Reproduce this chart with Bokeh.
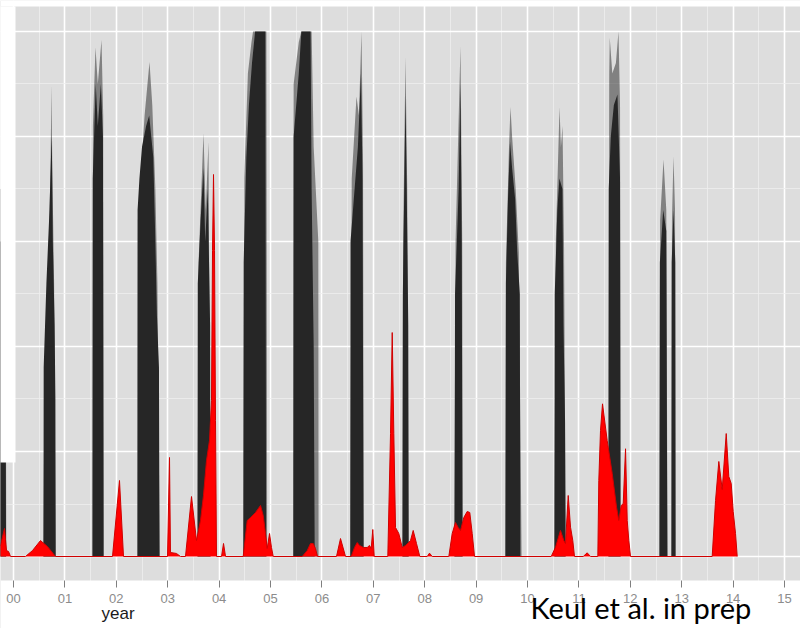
from bokeh.plotting import figure
from bokeh.models import FixedTicker, Range1d, BoxAnnotation, Label
from bokeh.embed import file_html
from bokeh.resources import INLINE

# ---------------- data ----------------
tick_years = list(range(2000, 2016))
tick_labels = ["00", "01", "02", "03", "04", "05", "06", "07", "08", "09",
               "10", "11", "12", "13", "14", "15"]
minor_years = [1999.5, 2000.5, 2001.5, 2002.5, 2003.5, 2004.5, 2005.5, 2006.5,
               2007.5, 2008.5, 2009.5, 2010.5, 2011.5, 2012.5, 2013.5, 2014.5, 2015.5]
y_major = [0, 1, 2, 3, 4, 5]
y_minor = [0.5, 1.5, 2.5, 3.5, 4.5]

# black ensemble: upper envelope (faint tips)
black_max_x = [
    1999.70, 1999.71, 1999.845, 1999.86,
    2000.58, 2000.60, 2000.66, 2000.72, 2000.739, 2000.755, 2000.79, 2000.82,
    2001.535, 2001.545, 2001.595, 2001.64, 2001.712, 2001.745, 2001.755,
    2002.41, 2002.42, 2002.55, 2002.646, 2002.70, 2002.76, 2002.80, 2002.845,
    2003.58, 2003.60, 2003.696, 2003.74, 2003.794, 2003.835,
    2004.47, 2004.49, 2004.56, 2004.63, 2004.66, 2004.92, 2004.935,
    2005.44, 2005.45, 2005.55, 2005.60, 2005.80, 2005.84, 2005.93, 2005.935,
    2006.55, 2006.58, 2006.673, 2006.72, 2006.77, 2006.80, 2006.815,
    2007.565, 2007.58, 2007.626, 2007.66, 2007.69,
    2008.575, 2008.60, 2008.696, 2008.73, 2008.74,
    2009.565, 2009.58, 2009.64, 2009.669, 2009.70, 2009.77, 2009.83, 2009.885,
    2010.52, 2010.55, 2010.623, 2010.65, 2010.681, 2010.71, 2010.745,
    2011.57, 2011.59, 2011.60, 2011.65, 2011.72, 2011.77, 2011.80, 2011.815,
    2012.565, 2012.58, 2012.646, 2012.70, 2012.725,
    2012.80, 2012.81, 2012.84, 2012.87, 2012.88,
]
black_max_y = [
    0, 3.5, 3.5, 0,
    0, 1.4, 2.4, 3.7, 4.49, 3.7, 2.6, 0,
    0, 4.1, 4.85, 4.5, 4.92, 4.2, 0,
    0, 3.2, 4.2, 4.71, 4.3, 3.5, 2.6, 0,
    0, 2.8, 4.03, 3.3, 3.95, 0,
    0, 3.6, 4.6, 4.9, 5.0, 5.0, 0,
    0, 4.5, 4.9, 5.0, 5.0, 3.9, 3.0, 0,
    0, 3.6, 4.38, 4.2, 5.0, 3.8, 0,
    0, 3.0, 4.76, 3.5, 0,
    0, 3.0, 4.86, 3.0, 0,
    0, 2.8, 3.9, 4.28, 4.0, 3.5, 2.9, 0,
    0, 3.0, 4.28, 3.9, 4.10, 3.0, 0,
    0, 4.6, 4.94, 4.6, 4.7, 5.0, 4.3, 0,
    0, 3.2, 3.78, 3.3, 0,
    0, 3.2, 3.81, 3.3, 0,
]

# black ensemble: dense core
black_core_x = [
    1999.70, 1999.71, 1999.84, 1999.855,
    2000.583, 2000.587, 2000.64, 2000.70, 2000.735, 2000.745, 2000.765, 2000.80, 2000.815, 2000.82,
    2001.537, 2001.542, 2001.58, 2001.60, 2001.64, 2001.70, 2001.74, 2001.752,
    2002.412, 2002.414, 2002.45, 2002.50, 2002.58, 2002.64, 2002.68, 2002.72, 2002.76, 2002.79, 2002.83, 2002.84,
    2003.58, 2003.585, 2003.64, 2003.696, 2003.73, 2003.78, 2003.825, 2003.832,
    2004.472, 2004.478, 2004.53, 2004.58, 2004.64, 2004.70, 2004.90, 2004.915,
    2005.445, 2005.45, 2005.55, 2005.60, 2005.78, 2005.80, 2005.84, 2005.86,
    2006.553, 2006.557, 2006.62, 2006.70, 2006.76, 2006.79, 2006.81,
    2007.568, 2007.575, 2007.61, 2007.626, 2007.65, 2007.68, 2007.687,
    2008.58, 2008.59, 2008.66, 2008.696, 2008.72, 2008.736,
    2009.572, 2009.58, 2009.62, 2009.66, 2009.70, 2009.76, 2009.80, 2009.85, 2009.86,
    2010.525, 2010.53, 2010.58, 2010.62, 2010.68, 2010.70, 2010.73, 2010.74,
    2011.576, 2011.58, 2011.62, 2011.68, 2011.75, 2011.80, 2011.809,
    2012.568, 2012.575, 2012.64, 2012.70, 2012.72,
    2012.80, 2012.805, 2012.84, 2012.875, 2012.88,
]
black_core_y = [
    0, 3.0, 3.0, 0,
    0, 1.8, 2.6, 3.3, 3.9, 4.0, 3.0, 2.2, 1.5, 0,
    0, 3.6, 4.2, 4.5, 4.1, 4.5, 4.0, 0,
    0, 3.3, 3.6, 3.9, 4.1, 4.2, 4.0, 3.8, 3.0, 2.3, 1.8, 0,
    0, 2.6, 3.2, 3.7, 3.0, 3.5, 2.2, 0,
    0, 2.8, 3.8, 4.3, 4.7, 5.0, 5.0, 0,
    0, 4.0, 4.6, 5.0, 5.0, 3.5, 2.0, 0,
    0, 3.0, 3.4, 3.9, 4.6, 3.6, 0,
    0, 2.5, 3.8, 4.4, 3.5, 2.2, 0,
    0, 2.5, 3.5, 4.5, 3.0, 0,
    0, 2.6, 3.4, 3.95, 3.7, 3.4, 2.9, 2.5, 0,
    0, 2.5, 3.3, 3.6, 3.5, 2.2, 1.3, 0,
    0, 3.5, 4.0, 4.3, 4.4, 3.6, 0,
    0, 2.8, 3.3, 3.1, 0,
    0, 2.8, 3.3, 2.8, 0,
]

# red series
red_x = [
    1999.70, 1999.747, 1999.825, 1999.864, 1999.903, 1999.942,
    2000.233, 2000.370, 2000.525, 2000.661, 2000.817,
    2001.926, 2002.062, 2002.140,
    2002.996, 2003.035, 2003.054, 2003.171, 2003.249,
    2003.346, 2003.463, 2003.560, 2003.638, 2003.696, 2003.755, 2003.813, 2003.852,
    2003.872, 2003.891, 2003.911, 2003.930, 2003.949,
    2004.047, 2004.086, 2004.125,
    2004.469, 2004.547, 2004.611, 2004.708, 2004.805, 2004.858, 2004.903, 2004.936,
    2004.981, 2005.019, 2005.053,
    2005.617, 2005.714, 2005.778, 2005.831, 2005.875, 2005.914,
    2006.284, 2006.362, 2006.459,
    2006.570, 2006.634, 2006.687, 2006.732, 2006.809, 2006.881, 2006.926, 2006.959,
    2006.990, 2007.018,
    2007.282, 2007.335, 2007.368, 2007.399, 2007.432, 2007.496, 2007.562, 2007.626,
    2007.724, 2007.776, 2007.840, 2007.905,
    2008.049, 2008.093, 2008.146,
    2008.469, 2008.535, 2008.599, 2008.652, 2008.696, 2008.761, 2008.827, 2008.877,
    2008.924, 2008.969,
    2010.461, 2010.545, 2010.642, 2010.706, 2010.739, 2010.792, 2010.837, 2010.881, 2010.914,
    2011.084, 2011.161, 2011.226,
    2011.368, 2011.387, 2011.420, 2011.459, 2011.550, 2011.648, 2011.732, 2011.776,
    2011.823, 2011.862, 2011.907, 2011.940, 2011.971, 2012.004,
    2013.593, 2013.658, 2013.722, 2013.788, 2013.866, 2013.916, 2013.963, 2014.002,
    2014.047, 2014.080,
]
red_y = [
    0.08, 0.105, 0.267, 0.057, 0.048, 0,
    0, 0.057, 0.152, 0.095, 0,
    0, 0.724, 0,
    0, 0.943, 0.038, 0.029, 0,
    0, 0.571, 0.152, 0.343, 0.581, 0.914, 1.105, 1.486,
    2.914, 3.638, 2.914, 1.295, 0,
    0, 0.124, 0,
    0, 0.343, 0.371, 0.419, 0.486, 0.390, 0.219, 0.076,
    0.219, 0.086, 0,
    0, 0.057, 0.124, 0.124, 0.076, 0,
    0, 0.171, 0,
    0, 0.086, 0.133, 0.105, 0.086, 0.086, 0.105, 0.076,
    0.257, 0,
    0, 1.171, 2.133, 1.171, 0.276, 0.219, 0.086, 0.105,
    0.152, 0.248, 0.124, 0,
    0, 0.032, 0,
    0, 0.219, 0.324, 0.276, 0.248, 0.371, 0.429, 0.419,
    0.219, 0,
    0, 0.089, 0.248, 0.152, 0.124, 0.581, 0.279, 0.152, 0,
    0, 0.035, 0,
    0, 0.724, 1.2, 1.454, 1.105, 0.790, 0.470, 0.343,
    0.486, 0.505, 1.026, 0.343, 0.152, 0,
    0, 0.533, 0.905, 0.638, 1.171, 0.762, 0.695, 0.429,
    0.219, 0,
]

# ---------------- figure ----------------
# frame spans the whole canvas; the grey panel runs from y = -0.2286 to 5.238
Y_LO, Y_HI = -0.6857, 5.2952
PANEL_BOTTOM, PANEL_TOP = -0.2286, 5.238

p = figure(width=800, height=628,
           x_range=Range1d(1999.747, 2015.311), y_range=Range1d(Y_LO, Y_HI),
           output_backend="svg", toolbar_location=None, y_axis_location=None,
           min_border=0, min_border_left=0, min_border_right=0,
           min_border_top=0, min_border_bottom=0)
p.background_fill_color = "#DDDDDD"
p.border_fill_color = "white"
p.outline_line_color = None

ax = p.xaxis[0]
ax.fixed_location = PANEL_BOTTOM
ax.ticker = FixedTicker(ticks=tick_years, minor_ticks=minor_years)
ax.major_label_overrides = {y: s for y, s in zip(tick_years, tick_labels)}
ax.axis_line_color = None
ax.major_tick_line_color = "#7F7F7F"
ax.major_tick_out = 7
ax.major_tick_in = 0
ax.minor_tick_line_color = None
ax.major_label_text_color = "#8C8C8C"
ax.major_label_text_font = "Liberation Sans"
ax.major_label_text_font_size = "13px"
ax.major_label_standoff = 6

p.xgrid.ticker = FixedTicker(ticks=tick_years, minor_ticks=minor_years)
p.ygrid.ticker = FixedTicker(ticks=y_major, minor_ticks=y_minor)
for g in (p.xgrid, p.ygrid):
    g.grid_line_color = "white"
    g.grid_line_width = 1.6
    g.minor_grid_line_color = "#EFEFEF"
    g.minor_grid_line_width = 0.8

# white margins outside the grey panel (drawn over the grid, under glyphs and axis)
p.add_layout(BoxAnnotation(bottom=Y_LO - 1, top=PANEL_BOTTOM, fill_color="white",
                           fill_alpha=1.0, line_alpha=0, level="underlay"))
p.add_layout(BoxAnnotation(bottom=PANEL_TOP, top=Y_HI + 1, fill_color="white",
                           fill_alpha=1.0, line_alpha=0, level="underlay"))

p.varea(x=black_max_x, y1=0, y2=black_max_y, fill_color="#262626", fill_alpha=0.5)
p.varea(x=black_core_x, y1=0, y2=black_core_y, fill_color="#262626", fill_alpha=1.0)
p.varea(x=red_x, y1=0, y2=red_y, fill_color="#FF0000", fill_alpha=1.0)
p.line(red_x, red_y, line_color="#D00000", line_width=1)

# white box at the top-left corner
p.add_layout(BoxAnnotation(left=1999.0, right=2000.039, bottom=0.895, top=PANEL_TOP,
                           fill_color="white", fill_alpha=1.0, line_alpha=0))

p.add_layout(Label(x=2002.033, y=-0.54, text="year", text_align="center",
                   text_baseline="alphabetic", text_font="Liberation Sans",
                   text_font_size="17px", text_color="#1A1A1A"))
p.add_layout(Label(x=2010.058, y=-0.49, text="Keul et al. in prep", text_align="left",
                   text_baseline="alphabetic", text_font="Lato",
                   text_font_size="29px", text_color="black"))

open("out.html", "w").write(file_html(p, INLINE))
